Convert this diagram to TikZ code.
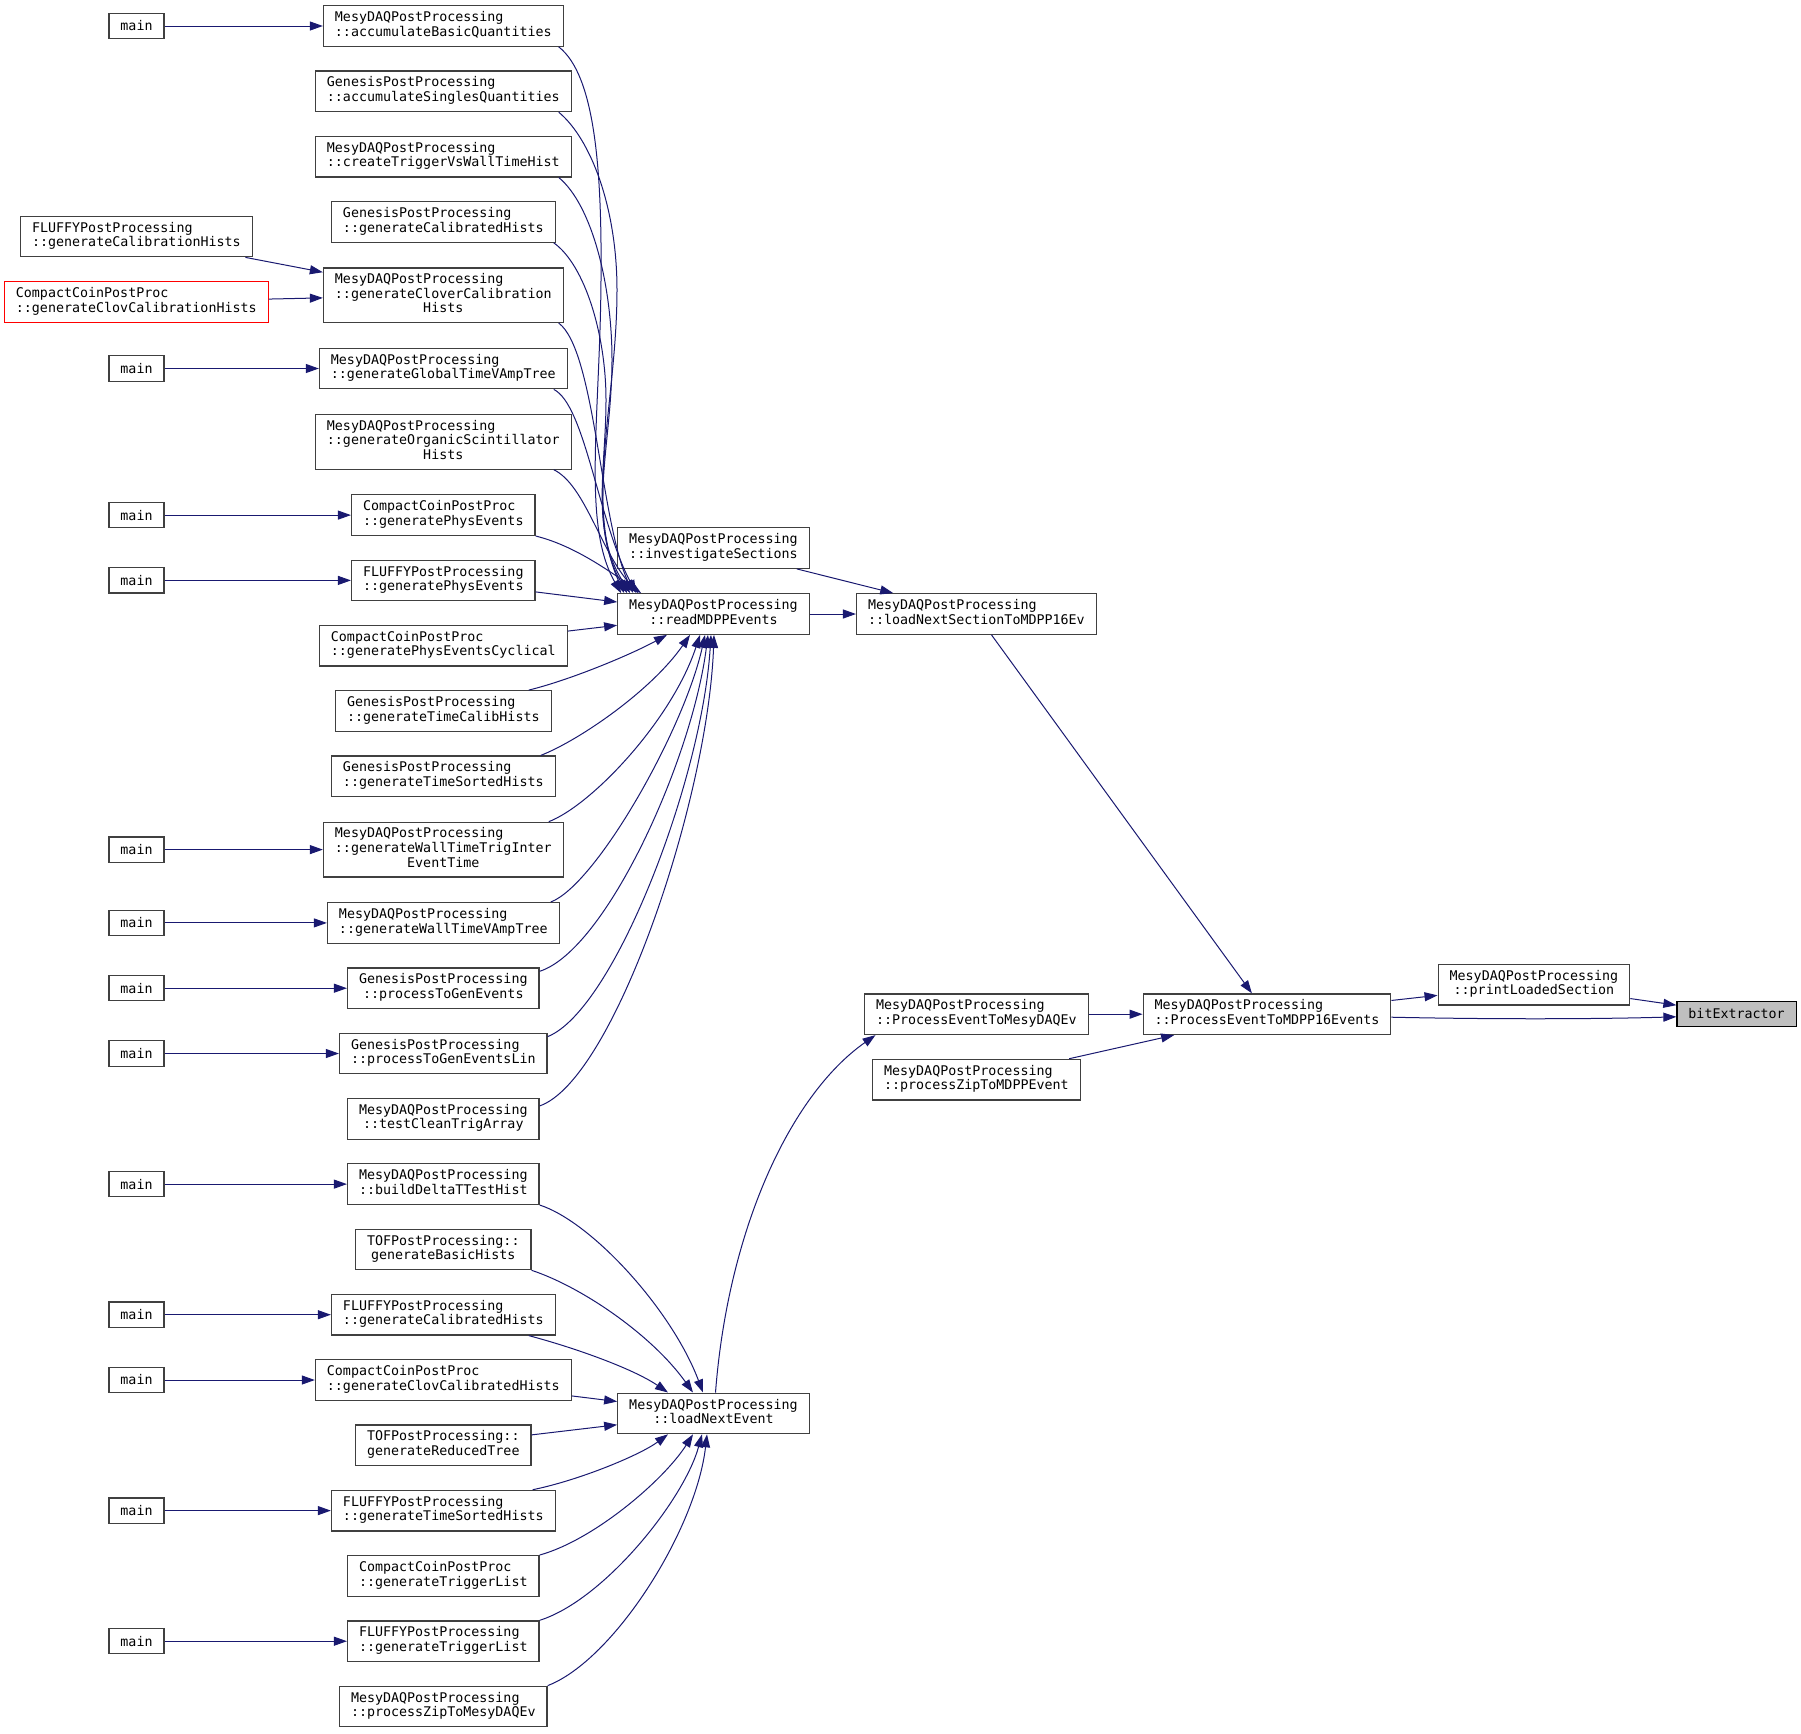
\documentclass[tikz,border=0pt]{standalone}
\usepackage{fontspec}
\setmonofont{DejaVu Sans Mono}
\usetikzlibrary{arrows.meta}
\definecolor{edgeblue}{HTML}{191970}
\definecolor{boxgrey}{HTML}{404040}
\definecolor{leafgrey}{HTML}{BFBFBF}
\newcommand{\twoline}[2]{\begin{tabular}{@{}l@{}}#1\\\multicolumn{1}{@{}c@{}}{#2}\end{tabular}}
\newcommand{\threeline}[3]{\begin{tabular}{@{}l@{}}#1\\#2\\\multicolumn{1}{@{}c@{}}{#3}\end{tabular}}
\begin{document}
\begin{tikzpicture}[x=1pt, y=-1pt, line width=1pt,
  func/.style = {draw=boxgrey, line width=1.2pt, fill=white, font=\ttfamily\fontsize{13.33}{14.5}\selectfont, inner xsep=11.5pt, inner ysep=0pt, minimum height=40.6pt},
  functhree/.style = {func, minimum height=54.6pt},
  caller/.style = {func, minimum height=25.3pt},
  trunc/.style = {func, draw=red},
  leaf/.style = {caller, draw=black, fill=leafgrey},
  call/.style = {edgeblue, -{Triangle[length=13pt, width=9pt]}}]
\useasboundingbox (0,0) rectangle (1801,1733);

\node[caller] (m1) at (136.5,26) {main};
\node[func] (fluffycal) at (136.4,236.5) {\twoline{FLUFFYPostProcessing}{::generateCalibrationHists}};
\node[trunc] (ccclovcal) at (136.3,302) {\twoline{CompactCoinPostProc}{::generateClovCalibrationHists}};
\node[caller] (m2) at (136.5,368.5) {main};
\node[caller] (m3) at (136.5,515.1) {main};
\node[caller] (m4) at (136.5,580.4) {main};
\node[caller] (m5) at (136.5,849.6) {main};
\node[caller] (m6) at (136.5,922.9) {main};
\node[caller] (m7) at (136.5,988.2) {main};
\node[caller] (m8) at (136.5,1053.5) {main};
\node[caller] (m9) at (136.5,1184.1) {main};
\node[caller] (m10) at (136.5,1314.7) {main};
\node[caller] (m11) at (136.5,1380) {main};
\node[caller] (m12) at (136.5,1510.6) {main};
\node[caller] (m13) at (136.5,1641.2) {main};

\node[func] (accbasic) at (443.3,26) {\twoline{MesyDAQPostProcessing}{::accumulateBasicQuantities}};
\node[func] (accsingles) at (443.3,91.3) {\twoline{GenesisPostProcessing}{::accumulateSinglesQuantities}};
\node[func] (createtrig) at (443.3,156.6) {\twoline{MesyDAQPostProcessing}{::createTriggerVsWallTimeHist}};
\node[func] (gencalhists) at (443.3,221.9) {\twoline{GenesisPostProcessing}{::generateCalibratedHists}};
\node[functhree] (clovercal) at (443.3,295.2) {\threeline{MesyDAQPostProcessing}{::generateCloverCalibration}{Hists}};
\node[func] (globaltime) at (443.3,368.5) {\twoline{MesyDAQPostProcessing}{::generateGlobalTimeVAmpTree}};
\node[functhree] (organic) at (443.3,441.8) {\threeline{MesyDAQPostProcessing}{::generateOrganicScintillator}{Hists}};
\node[func] (ccphys) at (443.3,515.1) {\twoline{CompactCoinPostProc}{::generatePhysEvents}};
\node[func] (fluffyphys) at (443.3,580.4) {\twoline{FLUFFYPostProcessing}{::generatePhysEvents}};
\node[func] (ccphyscyc) at (443.3,645.7) {\twoline{CompactCoinPostProc}{::generatePhysEventsCyclical}};
\node[func] (gentimecalib) at (443.3,711) {\twoline{GenesisPostProcessing}{::generateTimeCalibHists}};
\node[func] (gentimesorted) at (443.3,776.3) {\twoline{GenesisPostProcessing}{::generateTimeSortedHists}};
\node[functhree] (walltrig) at (443.3,849.6) {\threeline{MesyDAQPostProcessing}{::generateWallTimeTrigInter}{EventTime}};
\node[func] (wallvamp) at (443.3,922.9) {\twoline{MesyDAQPostProcessing}{::generateWallTimeVAmpTree}};
\node[func] (procgen) at (443.3,988.2) {\twoline{GenesisPostProcessing}{::processToGenEvents}};
\node[func] (procgenlin) at (443.3,1053.5) {\twoline{GenesisPostProcessing}{::processToGenEventsLin}};
\node[func] (testclean) at (443.3,1118.8) {\twoline{MesyDAQPostProcessing}{::testCleanTrigArray}};
\node[func] (builddelta) at (443.3,1184.1) {\twoline{MesyDAQPostProcessing}{::buildDeltaTTestHist}};
\node[func] (tofbasic) at (443.3,1249.4) {\twoline{TOFPostProcessing::}{generateBasicHists}};
\node[func] (fluffycalib) at (443.3,1314.7) {\twoline{FLUFFYPostProcessing}{::generateCalibratedHists}};
\node[func] (ccclovcalib) at (443.3,1380) {\twoline{CompactCoinPostProc}{::generateClovCalibratedHists}};
\node[func] (tofreduced) at (443.3,1445.3) {\twoline{TOFPostProcessing::}{generateReducedTree}};
\node[func] (fluffysorted) at (443.3,1510.6) {\twoline{FLUFFYPostProcessing}{::generateTimeSortedHists}};
\node[func] (cctrigger) at (443.3,1575.9) {\twoline{CompactCoinPostProc}{::generateTriggerList}};
\node[func] (fluffytrigger) at (443.3,1641.2) {\twoline{FLUFFYPostProcessing}{::generateTriggerList}};
\node[func] (zipmesy) at (443.3,1706.5) {\twoline{MesyDAQPostProcessing}{::processZipToMesyDAQEv}};

\node[func] (investigate) at (713.5,548) {\twoline{MesyDAQPostProcessing}{::investigateSections}};
\node[func] (readmdpp) at (713.5,614) {\twoline{MesyDAQPostProcessing}{::readMDPPEvents}};
\node[func] (loadnextev) at (713.5,1413.4) {\twoline{MesyDAQPostProcessing}{::loadNextEvent}};
\node[func] (loadsection) at (976.4,614) {\twoline{MesyDAQPostProcessing}{::loadNextSectionToMDPP16Ev}};
\node[func] (pemesy) at (976.4,1014.2) {\twoline{MesyDAQPostProcessing}{::ProcessEventToMesyDAQEv}};
\node[func] (zipmdpp) at (976.4,1079.6) {\twoline{MesyDAQPostProcessing}{::processZipToMDPPEvent}};
\node[func] (pe16) at (1267,1014.2) {\twoline{MesyDAQPostProcessing}{::ProcessEventToMDPP16Events}};
\node[func] (printloaded) at (1533.9,984.7) {\twoline{MesyDAQPostProcessing}{::printLoadedSection}};
\node[leaf] (bitextractor) at (1736.6,1013.8) {bitExtractor};

\draw[call] (m1) -- (accbasic);
\draw[call] (m2) -- (globaltime);
\draw[call] (m3) -- (ccphys);
\draw[call] (m4) -- (fluffyphys);
\draw[call] (m5) -- (walltrig);
\draw[call] (m6) -- (wallvamp);
\draw[call] (m7) -- (procgen);
\draw[call] (m8) -- (procgenlin);
\draw[call] (m9) -- (builddelta);
\draw[call] (m10) -- (fluffycalib);
\draw[call] (m11) -- (ccclovcalib);
\draw[call] (m12) -- (fluffysorted);
\draw[call] (m13) -- (fluffytrigger);
\draw[call] (fluffycal) -- (clovercal);
\draw[call] (ccclovcal) -- (clovercal);

\draw[call] ([xshift=-5pt]accbasic.south east) .. controls (595,75) and (602,170) .. (601,280) .. controls (600,420) and (582,525) .. ([xshift=4pt]readmdpp.north west);
\draw[call] ([xshift=-13pt]accsingles.south east) .. controls (592,140) and (617,210) .. (617,290) .. controls (617,400) and (584,505) .. ([xshift=7pt]readmdpp.north west);
\draw[call] ([xshift=-13pt]createtrig.south east) .. controls (592,205) and (612,285) .. (612,360) .. controls (612,445) and (586,520) .. ([xshift=10pt]readmdpp.north west);
\draw[call] ([xshift=-2pt]gencalhists.south east) .. controls (585,265) and (606,335) .. (606,400) .. controls (606,470) and (590,530) .. ([xshift=13pt]readmdpp.north west);
\draw[call] ([xshift=-5pt]clovercal.south east) .. controls (595,350) and (600,520) .. ([xshift=16pt]readmdpp.north west);
\draw[call] ([xshift=-14pt]globaltime.south east) .. controls (585,405) and (598,520) .. ([xshift=19pt]readmdpp.north west);
\draw[call] ([xshift=-18pt]organic.south east) .. controls (585,485) and (600,550) .. ([xshift=21pt]readmdpp.north west);
\draw[call] (ccphys.south east) .. controls (572,545) and (605,568) .. ([xshift=24pt]readmdpp.north west);
\draw[call] (fluffyphys) -- (readmdpp);
\draw[call] (ccphyscyc) -- (readmdpp);
\draw[call] ([xshift=-23pt]gentimecalib.north east) .. controls (570,680) and (630,655) .. ([xshift=-46.5pt]readmdpp.south);
\draw[call] ([xshift=-15pt]gentimesorted.north east) .. controls (580,740) and (652,690) .. ([xshift=-23.5pt]readmdpp.south);
\draw[call] ([xshift=-15pt]walltrig.north east) .. controls (592,805) and (672,720) .. ([xshift=-13.5pt]readmdpp.south);
\draw[call] ([xshift=-9pt]wallvamp.north east) .. controls (596,885) and (684,730) .. ([xshift=-8.5pt]readmdpp.south);
\draw[call] ([yshift=-4pt]procgen.north east) .. controls (606,950) and (692,760) .. ([xshift=-5.5pt]readmdpp.south);
\draw[call] ([yshift=-4pt]procgenlin.north east) .. controls (614,1010) and (702,780) .. ([xshift=-2.5pt]readmdpp.south);
\draw[call] ([yshift=-8pt]testclean.north east) .. controls (614,1080) and (708,800) .. ([xshift=0.5pt]readmdpp.south);

\draw[call] (builddelta.south east) .. controls (592,1222) and (672,1310) .. ([xshift=-10.5pt]loadnextev.north);
\draw[call] (tofbasic.south east) .. controls (582,1287) and (652,1335) .. ([xshift=-20.5pt]loadnextev.north);
\draw[call] ([xshift=-27pt]fluffycalib.south east) .. controls (572,1347) and (632,1368) .. ([xshift=-45.5pt]loadnextev.north);
\draw[call] (ccclovcalib) -- (loadnextev);
\draw[call] (tofreduced) -- (loadnextev);
\draw[call] ([xshift=-23pt]fluffysorted.north east) .. controls (580,1480) and (640,1455) .. ([xshift=-45.5pt]loadnextev.south);
\draw[call] (cctrigger.north east) .. controls (594,1540) and (664,1480) .. ([xshift=-20.5pt]loadnextev.south);
\draw[call] (fluffytrigger.north east) .. controls (604,1600) and (684,1500) .. ([xshift=-11.5pt]loadnextev.south);
\draw[call] (zipmesy.north east) .. controls (614,1660) and (696,1530) .. ([xshift=-6.5pt]loadnextev.south);

\draw[call] (investigate) -- (loadsection);
\draw[call] (readmdpp) -- (loadsection);
\draw[call] (loadsection) -- (pe16);
\draw[call] ([xshift=2pt]loadnextev.north) .. controls (728,1230) and (790,1095) .. ([xshift=11.5pt]pemesy.south west);
\draw[call] (pemesy) -- (pe16);
\draw[call] (zipmdpp) -- (pe16);
\draw[call] (pe16) -- (printloaded);
\draw[call] (printloaded) -- (bitextractor);
\draw[call] ([yshift=-3pt]pe16.east) .. controls (1500,1019.5) and (1600,1019) .. ([yshift=-3pt]bitextractor.west);
\end{tikzpicture}
\end{document}
